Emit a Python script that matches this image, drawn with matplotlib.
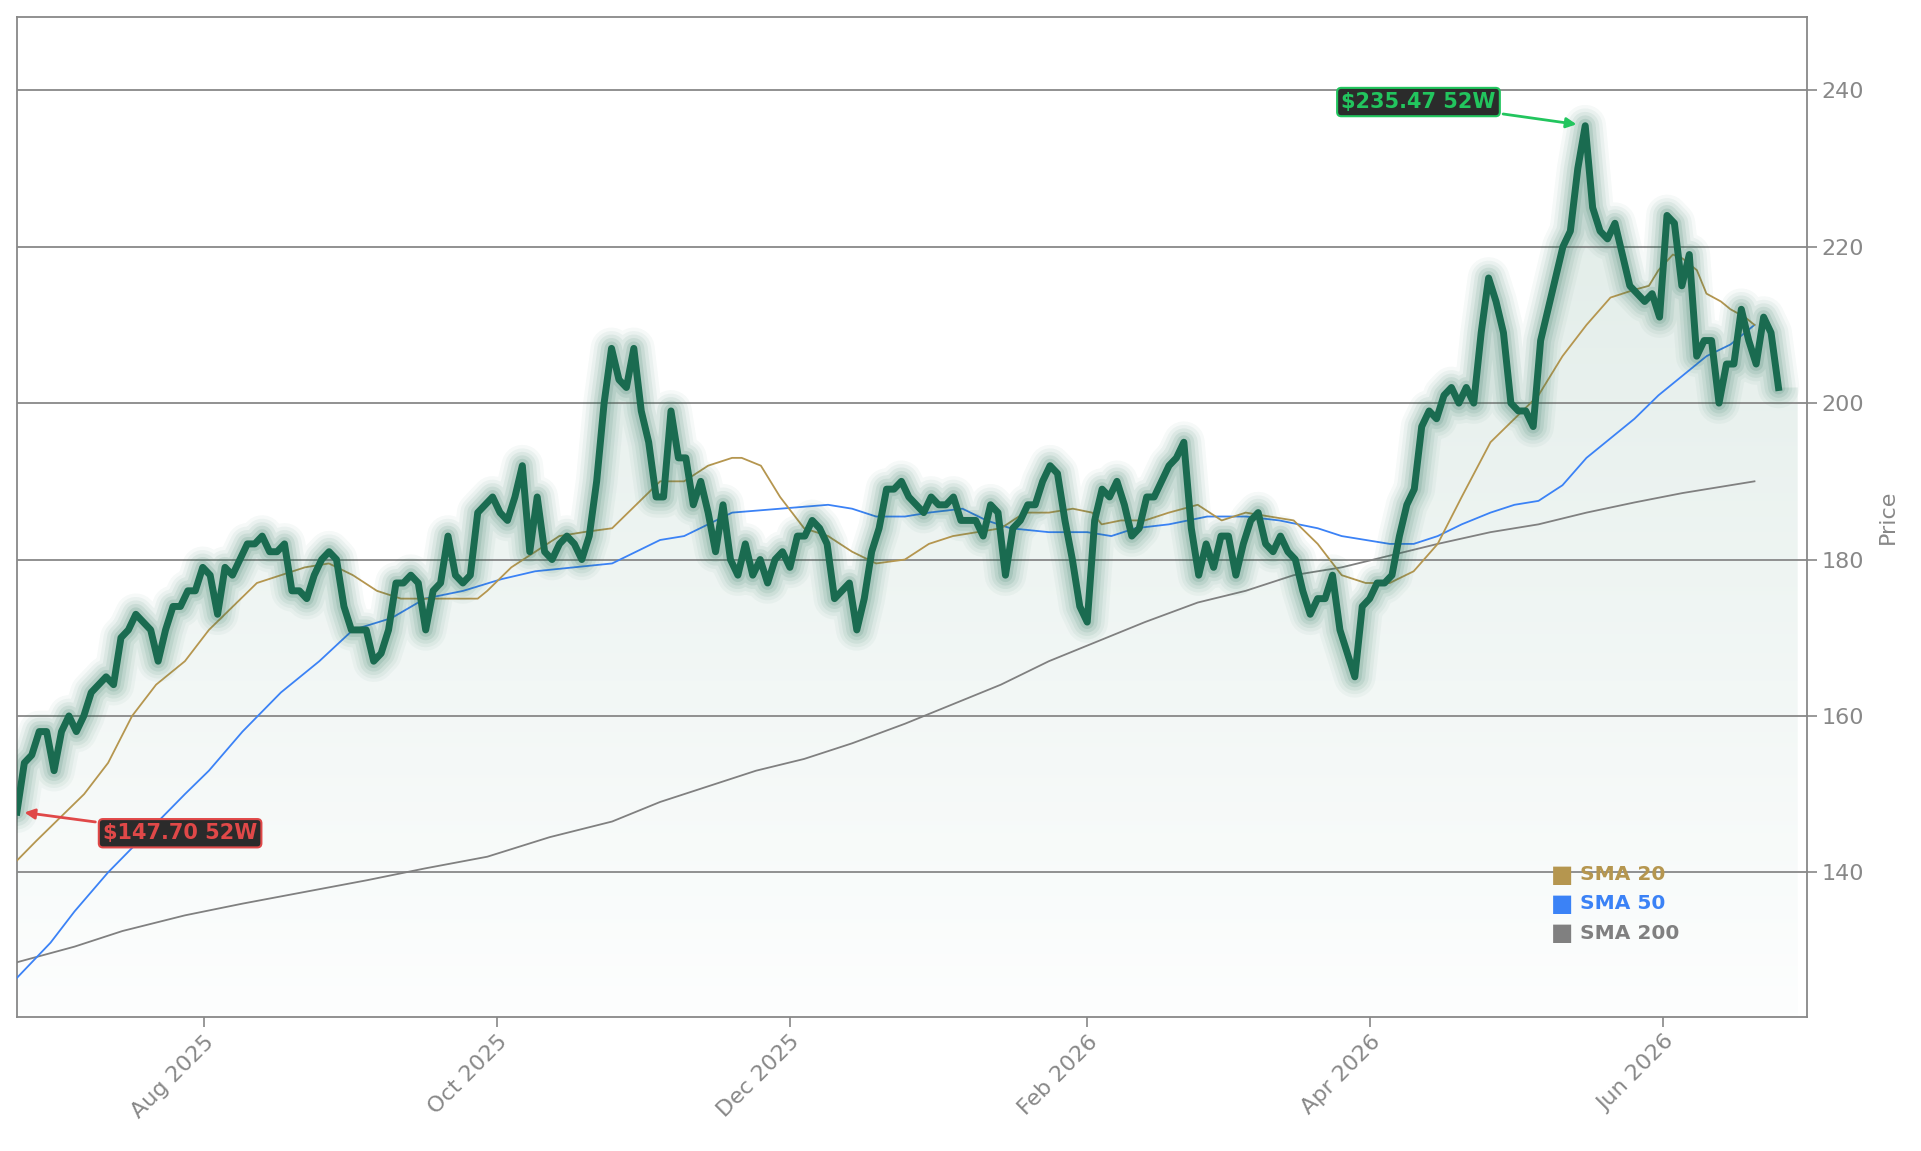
import numpy as np
import pandas as pd
import matplotlib
matplotlib.use("Agg")
import matplotlib.pyplot as plt
import matplotlib.dates as mdates
from matplotlib.patches import Polygon
from matplotlib.colors import LinearSegmentedColormap

START = pd.Timestamp("2025-06-23")
END = pd.Timestamp("2026-06-25")

price = [147.7,154,155,158,158,153,158,160,158,160,163,164,165,164,170,171,173,172,171,167,171,174,174,176,176,179,178,173,179,178,180,182,182,183,181,181,182,176,176,175,178,180,181,180,174,171,171,171,167,168,171,177,177,178,177,171,176,177,183,178,177,178,186,187,188,186,185,188,192,181,188,181,180,182,183,182,180,183,190,200,207,203,202,207,199,195,188,188,199,193,193,187,190,186,181,187,180,178,182,178,180,177,180,181,179,183,183,185,184,182,175,176,177,171,175,181,184,189,189,190,188,187,186,188,187,187,188,185,185,185,183,187,186,178,184,185,187,187,190,192,191,185,180,174,172,185,189,188,190,187,183,184,188,188,190,192,193,195,184,178,182,179,183,183,178,182,185,186,182,181,183,181,180,176,173,175,175,178,171,168,165,174,175,177,177,178,183,187,189,197,199,198,201,202,200,202,200,209,216,213,209,200,199,199,197,208,212,216,220,222,230,235.47,225,222,221,223,219,215,214,213,214,211,224,223,215,219,206,208,208,200,205,205,212,208,205,211,209,202]

sma20_days = [0,4,9,14,19,24,29,35,40,45,50,55,60,65,70,75,80,85,90,96,98,103,108,113,118,124,129,134,139,144,149,151,155,159,164,169,174,179,185,190,195,200,205,210,215,220,224,226,230,235,240,246,251,256,261,266,271,276,281,286,291,296,301,307,312,317,322,327,332,337,340,342,345,347,350,352,355,357,360,362]
sma20 = [141.5,144,147,150,154,160,164,167,171,174,177,178,179,179.5,178,176,175,175,175,175,176,179,181,183,183.5,184,187,190,190,192,193,193,192,188,184,183,181,179.5,180,182,183,183.5,184,186,186,186.5,186,184.5,185,185,186,187,185,186,185.5,185,182,178,177,177,178.5,182,188,195,198,201,206,210,213.5,214.5,215,217,219,218.5,217,214,213,212,211,210]
sma50_days = [0,7,12,19,27,35,40,47,55,63,70,78,85,93,101,108,116,124,129,134,139,144,149,159,169,174,179,185,190,197,202,207,215,223,228,233,240,248,256,263,271,276,281,286,291,296,301,307,312,317,322,327,332,337,342,347,352,357,362]
sma50 = [126.5,131,135,140,145,150,153,158,163,167,171,172.5,175,176,177.5,178.5,179,179.5,181,182.5,183,184.5,186,186.5,187,186.5,185.5,185.5,186,186.5,185,184,183.5,183.5,183,184,184.5,185.5,185.5,185,184,183,182.5,182,182,183,184.5,186,187,187.5,189.5,193,195.5,198,201,203.5,206,207.5,210]
sma200_days = [0,12,22,35,47,60,73,85,98,111,124,134,144,154,164,174,185,195,205,215,225,235,246,256,266,276,286,296,307,317,327,337,347,355,362]
sma200 = [128.5,130.5,132.5,134.5,136,137.5,139,140.5,142,144.5,146.5,149,151,153,154.5,156.5,159,161.5,164,167,169.5,172,174.5,176,178,179,180.5,182,183.5,184.5,186,187.3,188.5,189.3,190]

dates = pd.date_range(START, END, periods=len(price))
to_dates = lambda d: START + pd.to_timedelta(d, unit="D")

fig = plt.figure(figsize=(19.21, 11.51), dpi=100)
ax = fig.add_axes([0.0088, 0.1164, 0.932, 0.869])
ymin, ymax = 121.5, 249.4
xmin, xmax = mdates.date2num(START), mdates.date2num(pd.Timestamp("2026-07-01"))
ax.set_xlim(xmin, xmax)
ax.set_ylim(ymin, ymax)

for y in [140, 160, 180, 200, 220, 240]:
    ax.axhline(y, color="#888888", lw=1.3, zorder=1)

xn = mdates.date2num(dates)
grad = np.linspace(0, 1, 256).reshape(-1, 1)
cmap = LinearSegmentedColormap.from_list("g", ["#fdfefe", "#dce9e4"])
im = ax.imshow(grad, extent=[xmin, xmax, ymin, ymax], origin="lower", aspect="auto", cmap=cmap, zorder=0.5)
last_x = mdates.date2num(pd.Timestamp("2026-06-29"))
poly = Polygon(np.column_stack([np.r_[xn[0], xn, last_x, last_x], np.r_[ymin, price, price[-1], ymin]]),
               closed=True, transform=ax.transData, facecolor="none", edgecolor="none")
ax.add_patch(poly)
im.set_clip_path(poly)

ax.plot(to_dates(sma200_days), sma200, color="#808080", lw=1.3, zorder=3)
ax.plot(to_dates(sma50_days), sma50, color="#3b82f6", lw=1.3, zorder=3)
ax.plot(to_dates(sma20_days), sma20, color="#b5964f", lw=1.3, zorder=3)

for w, a in [(30, 0.04), (25, 0.05), (20, 0.07), (15, 0.09), (10, 0.12)]:
    ax.plot(dates, price, color="#1a6b50", lw=w, alpha=a, solid_capstyle="round", solid_joinstyle="round", zorder=4)
ax.plot(dates, price, color="#1a6b50", lw=5, solid_joinstyle="round", zorder=5)

ax.annotate("$147.70 52W", xy=(to_dates(1), 147.7), xytext=(to_dates(34), 145.0),
            ha="center", va="center", fontsize=15, fontweight="bold", color="#e04848",
            bbox=dict(boxstyle="round,pad=0.2", fc="#2b2b2b", ec="#e04848", lw=1.5),
            arrowprops=dict(arrowstyle="-|>", color="#e04848", lw=2), zorder=10)
ax.annotate("$235.47 52W", xy=(to_dates(325.5), 235.6), xytext=(to_dates(292), 238.5),
            ha="center", va="center", fontsize=15, fontweight="bold", color="#22c55e",
            bbox=dict(boxstyle="round,pad=0.2", fc="#2b2b2b", ec="#22c55e", lw=1.5),
            arrowprops=dict(arrowstyle="-|>", color="#22c55e", lw=2), zorder=10)

for i, (lab, c) in enumerate([("SMA 20", "#b5964f"), ("SMA 50", "#3b82f6"), ("SMA 200", "#808080")]):
    yy = 0.142 - i * 0.029
    ax.text(0.857, yy, "\u25A0", transform=ax.transAxes, color=c, fontsize=17, va="center", ha="left")
    ax.text(0.873, yy, lab, transform=ax.transAxes, color=c, fontsize=14.5, fontweight="bold", va="center", ha="left")

ax.yaxis.tick_right()
ax.yaxis.set_label_position("right")
ax.set_yticks([140, 160, 180, 200, 220, 240])
ax.set_ylabel("Price", color="#888888", fontsize=16, labelpad=10)
ax.xaxis.set_major_locator(mdates.MonthLocator(bymonth=[2, 4, 6, 8, 10, 12]))
ax.xaxis.set_major_formatter(mdates.DateFormatter("%b %Y"))
ax.tick_params(axis="both", colors="#888888", labelsize=16, length=7, width=1.2)
for lab in ax.get_xticklabels():
    lab.set_rotation(45)
    lab.set_ha("right")
    lab.set_rotation_mode("anchor")
for s in ax.spines.values():
    s.set_color("#888888")
    s.set_linewidth(1.3)

fig.savefig("out.png", dpi=100, facecolor="white")
